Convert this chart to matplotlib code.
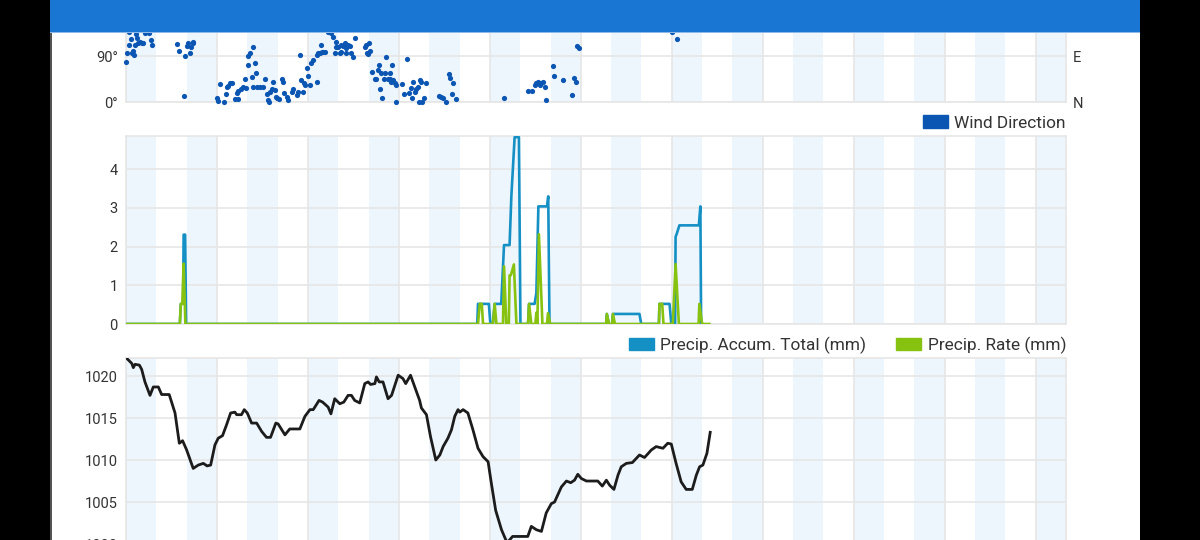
import matplotlib.pyplot as plt
from matplotlib.patches import Rectangle, Patch

plt.rcParams['font.family'] = ['Roboto', 'DejaVu Sans']

# hours since start of the chart
wind_hours = [0.0, 0.53, 1.32, 1.85, 2.24, 2.90, 3.30, 3.56, 4.22, 4.88, 5.54, 6.20, 6.59, 7.51, 9.23, 9.75,
              10.15, 3.95, 1.32, 20.30, 21.09, 23.33, 23.99, 24.65, 25.31, 25.70, 26.36, 26.62, 23.07,
              35.85, 36.51, 37.17, 38.88, 39.54, 39.80, 40.46, 41.12, 41.78, 43.10, 43.76, 44.42, 44.42,
              45.34, 46.13, 47.06, 47.45, 48.11, 48.37, 49.03, 50.35, 51.01, 51.41, 49.69, 50.08, 51.67,
              52.98, 54.30, 54.96, 55.62, 56.28, 56.68, 56.94, 57.60, 58.26, 58.92, 59.31, 59.84, 60.63,
              61.55, 62.21, 62.61, 63.53, 64.19, 65.50, 66.16, 67.48, 68.14, 68.80, 69.06, 69.85, 70.38,
              70.78, 71.44, 72.10, 72.75, 73.41, 74.07, 75.39, 75.65, 76.05, 76.71, 77.10, 77.37, 78.03,
              78.68, 80.00, 81.32, 81.98, 82.64, 83.04, 83.30, 83.96, 84.62, 85.27, 85.93, 86.60, 87.25,
              87.91, 88.57, 89.23, 89.89, 90.55, 85.27, 87.25, 95.16, 95.82,
              94.50, 95.42, 96.21, 96.74, 95.82, 97.53, 98.45, 99.11, 99.77, 100.16, 100.69, 101.09, 101.48,
              102.01, 102.41, 103.06, 103.72, 104.38, 104.65, 105.04, 105.44, 105.70, 106.36, 106.75,
              107.02, 109.39, 109.92, 111.37, 112.03, 112.95, 113.34, 113.61, 114.27, 114.93, 115.59,
              115.98, 116.24, 116.90, 117.30, 117.96, 118.62, 123.89, 124.81, 125.47, 126.79, 127.84,
              128.37, 128.90, 129.42, 130.48, 149.46, 159.08, 160.79, 161.72, 162.37, 163.03, 163.69,
              164.35, 165.01, 165.67, 166.06, 168.96, 169.36, 172.92, 176.35, 177.27, 177.93, 178.46,
              179.25, 215.9, 217.9]
wind_deg = [77.6, 96.5, 111.5, 122.6, 95.2, 100.5, 92.0, 111.5, 124.6, 114.8, 118.1, 116.1, 114.8, 135.7,
            135.7, 121.3, 111.5, 133.1, 137.6, 112.8, 99.8, 90.7, 109.6, 114.8, 96.5, 108.3, 116.1, 118.1,
            12.4, 7.2, 2.6, 34.6, 0.6, 15.0, 28.7, 31.3, 36.5, 37.8, 5.2, 16.9, 5.2, 22.2, 24.8, 28.7,
            44.4, 26.7, 72.4, 90.0, 95.2, 108.3, 77.0, 57.4, 48.3, 28.7, 30.0, 28.7, 28.7, 44.4, 15.0,
            3.9, 0.6, 20.2, 26.1, 39.8, 23.5, 10.4, 7.2, 5.2, 44.4, 39.8, 16.9, 10.4, 3.9, 20.2, 24.8,
            13.7, 20.2, 92.0, 43.1, 20.2, 37.8, 33.3, 65.9, 50.9, 33.3, 77.0, 82.2, 92.0, 38.5, 95.2,
            95.2, 111.5, 98.5, 98.5, 98.5, 137.6, 134.4, 127.9, 95.2, 108.3, 118.1, 108.3, 95.2, 111.5,
            109.6, 114.8, 105.0, 111.5, 109.6, 95.2, 87.4, 124.6, 98.5, 95.2, 111.5, 95.2,
            108.3, 96.5, 114.8, 100.5, 93.9, 59.4, 44.4, 44.4, 62.6, 72.4, 24.8, 56.1, 7.2, 44.4, 56.1,
            87.4, 44.4, 57.4, 44.4, 39.8, 72.4, 43.1, 36.5, 33.3, 0.6, 35.2, 15.7, 83.5, 16.9, 26.7,
            7.2, 39.8, 20.2, 24.8, 30.0, 0.6, 43.1, 39.8, 0.0, 7.2, 36.5, 11.7, 10.4, 7.2, 0.0, 54.8,
            46.3, 15.7, 37.8, 5.2, 7.2, 21.5, 21.5, 33.3, 36.5, 39.8, 33.3, 37.8, 39.8, 28.7, 3.9, 70.4,
            50.9, 43.1, 13.0, 46.3, 39.8, 109.6, 105.0, 137.0, 123.3]

accum_hours = [0, 21.3, 21.7, 22.6, 22.8, 23.4, 23.8,
               139.0, 139.3, 143.6, 144.2, 145.2, 145.9, 148.5, 149.6, 151.8, 152.5, 153.8, 155.5, 156.1,
               159.1, 159.5, 161.7, 162.4, 163.2, 166.6, 167.1, 167.6,
               190.0, 190.3, 191.1, 192.4, 192.7, 203.2, 203.9,
               210.9, 211.1, 215.1, 215.8, 217.3, 217.5, 218.0, 219.0, 226.7, 227.3, 227.6, 228.0]
accum_mm = [0, 0, 0.52, 0.52, 2.31, 2.31, 0,
            0, 0.52, 0.52, 0, 0, 0.52, 0.52, 2.04, 2.04, 3.30, 4.83, 4.83, 0,
            0, 0.52, 0.52, 0.80, 3.04, 3.04, 3.30, 0,
            0, 0.26, 0, 0, 0.26, 0.26, 0,
            0, 0.52, 0.52, 0, 0, 2.25, 2.34, 2.55, 2.55, 3.04, 0, 0]

rate_hours = [0, 21.3, 21.7, 22.3, 22.8, 23.5,
              139.3, 140.0, 140.8, 141.3, 145.2, 145.9, 146.6, 149.2, 149.6, 150.5, 151.5, 151.8, 152.3,
              153.5, 154.5,
              159.1, 159.5, 160.4, 162.0, 162.4, 162.8, 163.4, 164.8, 166.6, 167.0, 167.9,
              190.0, 190.3, 191.1, 192.4, 192.7, 193.5,
              210.9, 211.1, 212.2, 212.7, 216.4, 217.5, 218.8, 226.6, 226.9, 228.0, 230.9]
rate_mm = [0, 0, 0.52, 0.52, 1.56, 0,
           0, 0.52, 0.52, 0, 0, 0.52, 0, 0, 1.49, 0, 0, 1.26, 1.26,
           1.54, 0,
           0, 0.52, 0, 0, 0.29, 0, 2.32, 0, 0, 0.28, 0,
           0, 0.26, 0, 0, 0.26, 0,
           0, 0.52, 0.52, 0, 0, 1.55, 0, 0, 0.52, 0, 0]

pres_hours = [0.0, 2.3, 2.9, 3.6, 5.3, 6.2, 7.5, 9.5, 10.8, 12.8, 14.1, 17.1, 19.4, 21.1, 22.4, 24.0, 26.6,
              28.6, 30.6, 32.1, 33.5, 35.2, 36.5, 38.2, 39.8, 41.4, 43.1, 43.8, 45.7, 46.8, 48.0, 49.7,
              51.7, 53.7, 55.6, 57.2, 59.3, 60.2, 62.9, 64.8, 68.8, 70.8, 72.8, 74.1, 76.4, 77.8, 80.0,
              81.1, 82.6, 84.6, 86.2, 87.9, 89.2, 90.5, 92.5, 94.5, 95.8, 96.8, 98.5, 99.1, 100.2, 101.7,
              103.7, 105.1, 107.7, 109.6, 110.7, 112.6, 114.3, 116.2, 116.9, 118.9, 120.5, 122.6, 124.2,
              125.5, 127.4, 128.8, 130.1, 131.4, 132.1, 133.4, 135.3, 137.3, 139.3, 141.3, 143.3, 144.6,
              146.3, 148.6, 150.3, 151.0, 153.0, 155.8, 159.0, 160.4, 162.4, 164.4, 166.3, 168.3, 169.6,
              172.3, 174.3, 176.0, 177.5, 178.8, 180.2, 182.2, 186.7, 188.5, 190.1, 191.4, 193.1, 194.7,
              196.0, 198.0, 200.4, 203.2, 205.2, 207.9, 209.8, 212.5, 214.4, 215.8, 217.7, 219.7, 221.7,
              224.1, 225.7, 227.0, 228.3, 229.9, 231.2]
pres_hpa = [1022.2, 1021.5, 1021.0, 1021.4, 1021.3, 1020.8, 1019.3, 1017.7, 1018.7, 1018.7, 1017.8, 1017.8,
            1015.6, 1012.0, 1012.3, 1011.2, 1009.0, 1009.4, 1009.6, 1009.3, 1009.4, 1011.8, 1012.6, 1012.9,
            1014.2, 1015.6, 1015.7, 1015.4, 1015.4, 1016.0, 1015.6, 1014.4, 1014.4, 1013.4, 1012.7, 1012.7,
            1014.4, 1014.3, 1013.0, 1013.7, 1013.7, 1015.2, 1016.0, 1016.0, 1017.1, 1016.9, 1016.3, 1015.5,
            1017.3, 1016.7, 1016.9, 1017.7, 1017.7, 1017.1, 1016.8, 1019.1, 1019.3, 1019.0, 1019.1, 1019.9,
            1019.3, 1019.3, 1017.3, 1017.7, 1020.1, 1019.7, 1019.1, 1020.1, 1018.7, 1017.1, 1016.2, 1015.4,
            1012.8, 1010.0, 1010.6, 1011.6, 1012.6, 1013.6, 1015.2, 1016.0, 1015.7, 1016.0, 1015.6, 1013.6,
            1011.4, 1010.4, 1009.8, 1007.2, 1004.0, 1001.7, 1000.5, 1000.2, 1000.9, 1000.9, 1000.9, 1002.1,
            1001.7, 1001.5, 1003.7, 1004.8, 1005.0, 1006.8, 1007.5, 1007.3, 1007.6, 1008.3, 1007.8, 1007.5,
            1007.5, 1006.9, 1007.6, 1007.0, 1006.5, 1008.2, 1009.2, 1009.6, 1009.7, 1010.6, 1010.3, 1011.2,
            1011.6, 1011.4, 1012.0, 1011.9, 1009.6, 1007.4, 1006.5, 1006.5, 1008.2, 1009.2, 1009.4, 1010.8,
            1013.3]

n_days = 15.5
grid_color = '#e6e6e6'
band_color = '#eef6fd'
text_color = '#333333'


def style_panel(ax):
    for d in range(16):
        ax.axvspan(24 * d, 24 * d + 12, color=band_color, lw=0, zorder=0)
    ax.set_xlim(0, n_days * 24)
    ax.set_xticks(range(0, 373, 36))
    ax.set_xticklabels([])
    ax.grid(True, color=grid_color, lw=1.2, zorder=1)
    ax.set_axisbelow(True)
    for sp in ax.spines.values():
        sp.set_color(grid_color)
        sp.set_linewidth(1.2)
    ax.tick_params(length=0, labelsize=10.5, labelcolor=text_color, pad=6)


fig = plt.figure(figsize=(12, 5.4), dpi=100)
fig.patch.set_facecolor('black')
fig.add_artist(Rectangle((50 / 1200, 0), 1090 / 1200, 1, transform=fig.transFigure,
                         facecolor='white', edgecolor='none', zorder=-100))
fig.add_artist(Rectangle((50 / 1200, 0), 2 / 1200, 1, transform=fig.transFigure,
                         facecolor='#555555', edgecolor='none', zorder=-99))

left = 126 / 1200
width = 940 / 1200

# wind direction (upper part of the panel sits under the app header)
ax_w = fig.add_axes([left, 438 / 540, width, 184 / 540])
style_panel(ax_w)
ax_w.scatter(wind_hours, wind_deg, s=14, color='#0b55b3', zorder=3, clip_on=False, lw=0)
ax_w.set_ylim(0, 360)
ax_w.set_yticks([0, 90])
ax_w.set_yticklabels(['0°', '90°'])
ax_w2 = ax_w.twinx()
ax_w2.set_ylim(0, 360)
ax_w2.set_yticks([0, 90])
ax_w2.set_yticklabels(['N', 'E'])
ax_w2.tick_params(length=0, labelsize=10.5, labelcolor=text_color, pad=5)
for sp in ax_w2.spines.values():
    sp.set_visible(False)

# precipitation
ax_p = fig.add_axes([left, 216 / 540, width, 188 / 540])
style_panel(ax_p)
ax_p.plot(accum_hours, accum_mm, color='#1590c5', lw=1.9, zorder=3)
ax_p.plot(rate_hours, rate_mm, color='#86c20f', lw=1.9, zorder=4)
ax_p.set_ylim(0, 4.86)
ax_p.set_yticks([0, 1, 2, 3, 4])

# pressure
ax_b = fig.add_axes([left, -4 / 540, width, 186 / 540])
style_panel(ax_b)
ax_b.plot(pres_hours, pres_hpa, color='#1c1c1c', lw=2.0, zorder=3)
ax_b.set_ylim(1000, 1022.15)
ax_b.set_yticks([1000, 1005, 1010, 1015, 1020])

leg_kw = dict(frameon=False, loc='center right', borderaxespad=0, borderpad=0, fontsize=12.4,
              handlelength=1.5, handleheight=0.7, handletextpad=0.35, columnspacing=1.7,
              labelcolor=text_color)
fig.legend(handles=[Patch(color='#0b55b3')], labels=['Wind Direction'],
           bbox_to_anchor=(1066 / 1200, 1 - 123 / 540), **leg_kw)
fig.legend(handles=[Patch(color='#1590c5'), Patch(color='#86c20f')],
           labels=['Precip. Accum. Total (mm)', 'Precip. Rate (mm)'], ncol=2,
           bbox_to_anchor=(1066 / 1200, 1 - 345 / 540), **leg_kw)

# app header bar
fig.add_artist(Rectangle((50 / 1200, 1 - 32 / 540), 1090 / 1200, 32 / 540, transform=fig.transFigure,
                         facecolor='#1976d2', edgecolor='none', zorder=100))
fig.add_artist(Rectangle((50 / 1200, 1 - 33 / 540), 1090 / 1200, 1.2 / 540, transform=fig.transFigure,
                         facecolor='#8db8e8', edgecolor='none', zorder=100))

fig.savefig('out.png', dpi=100, facecolor=fig.get_facecolor())
